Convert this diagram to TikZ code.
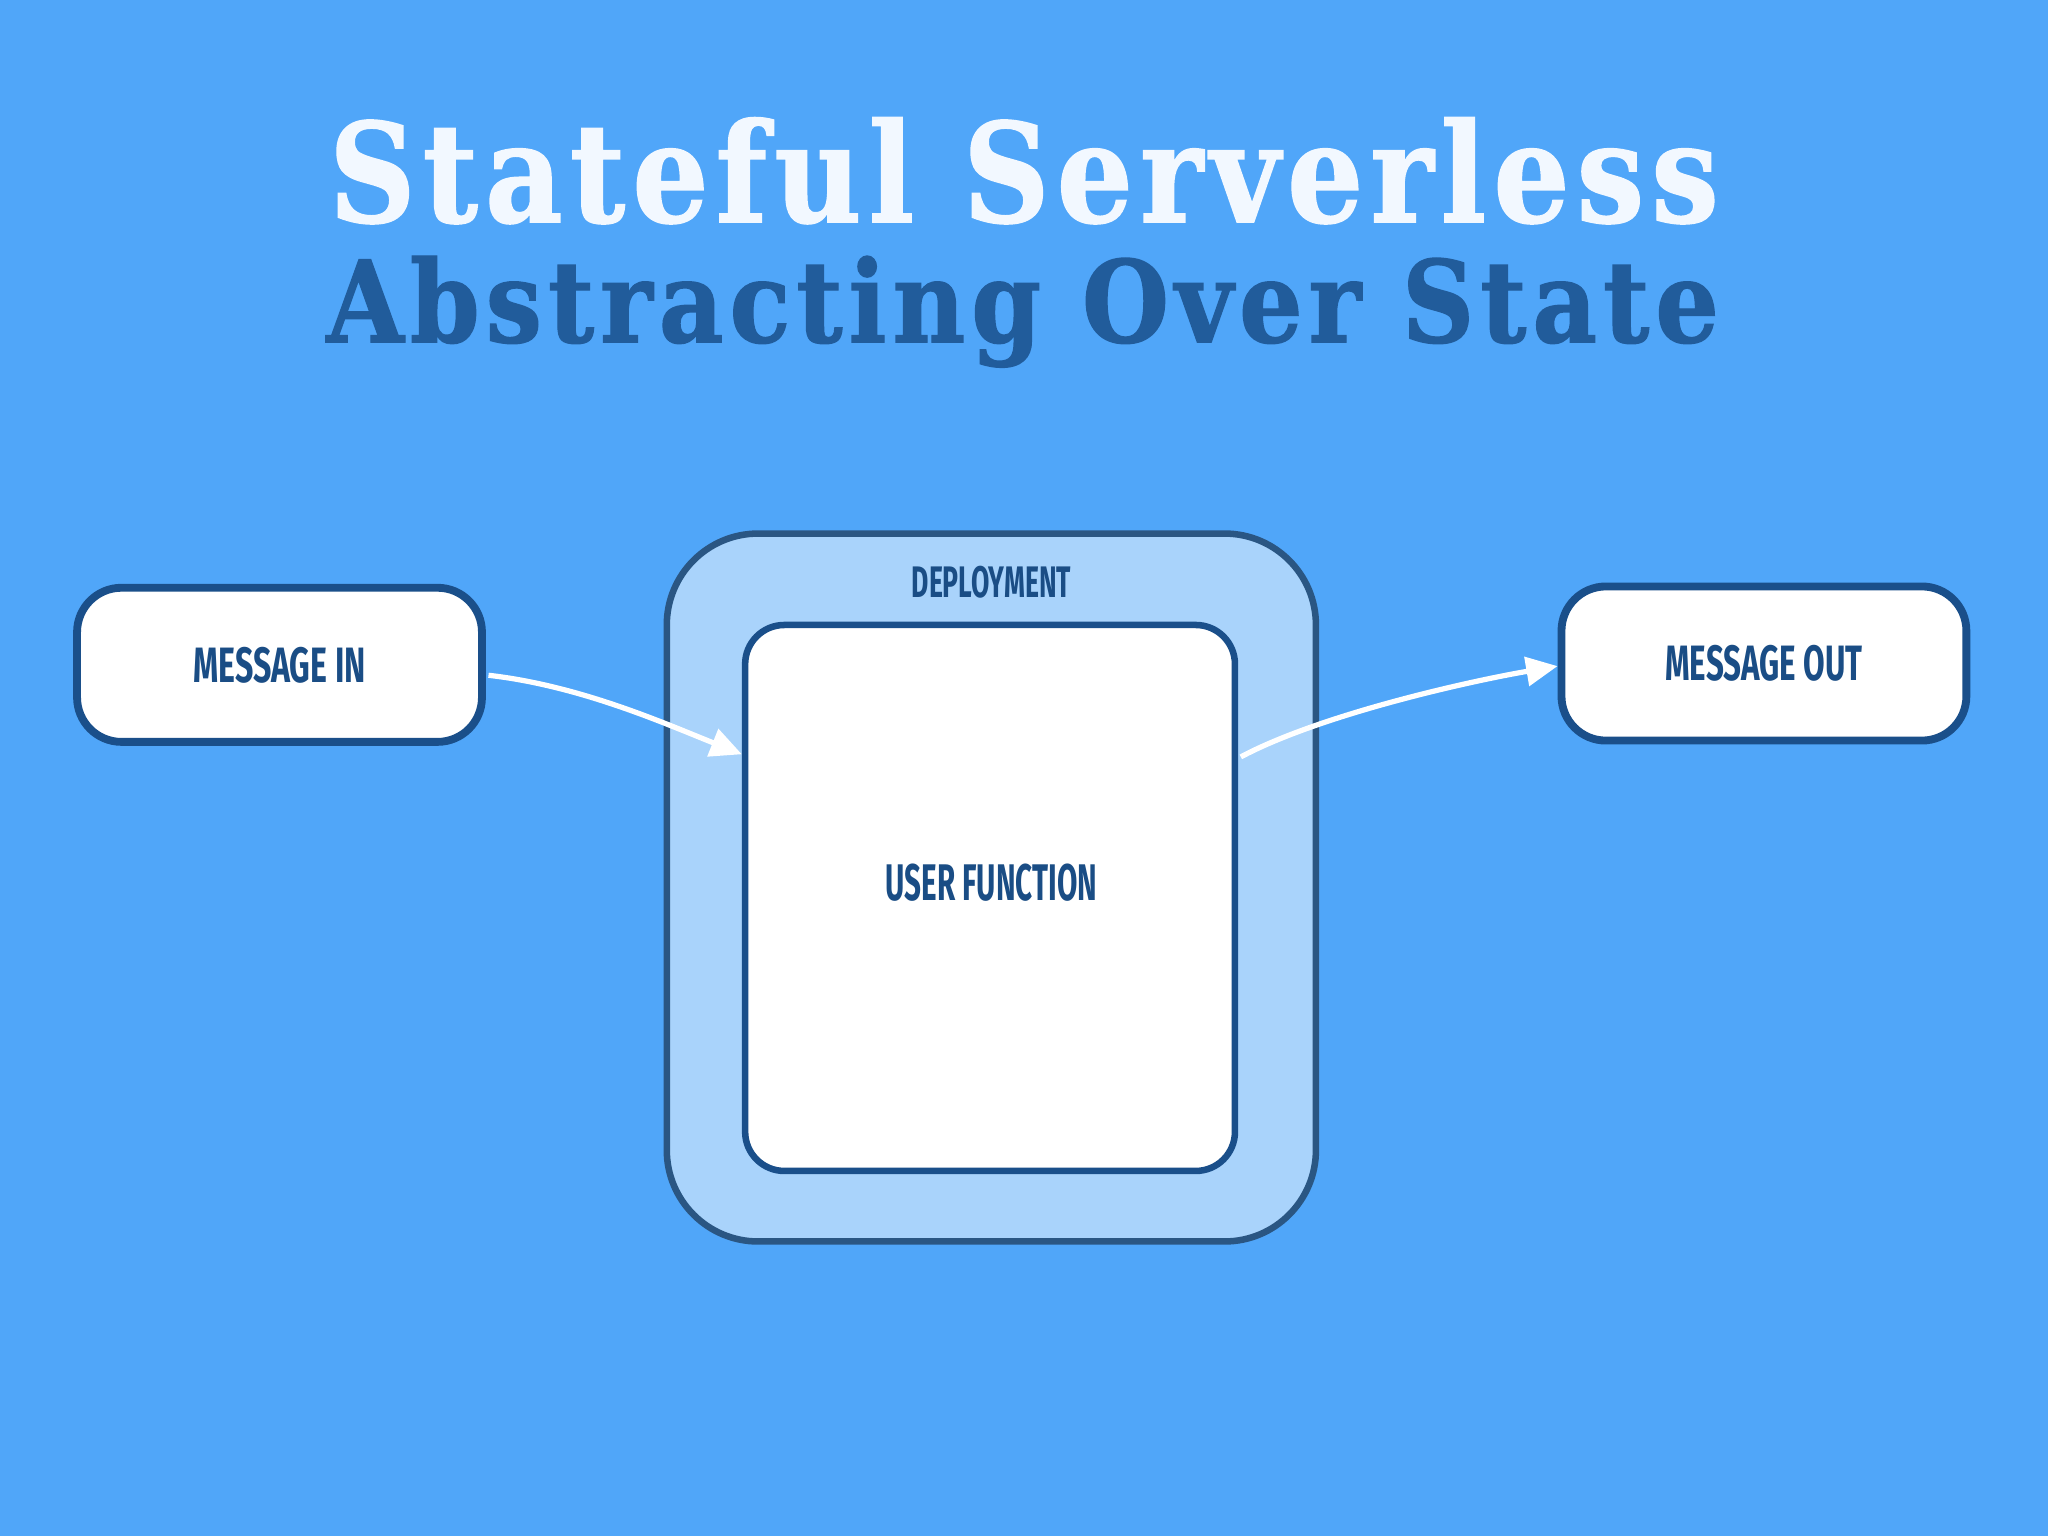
\documentclass[tikz,border=0pt]{standalone}
\usepackage{fontspec}
\usepackage{graphicx}
\usetikzlibrary{arrows.meta,calc}
\newfontfamily\titlefont{DejaVu Serif Bold}[LetterSpace=6,FakeBold=1.2]
\newfontfamily\lblfont{Fira Sans}
\definecolor{bg}{HTML}{50A6F9}
\definecolor{deplfill}{HTML}{A9D3FB}
\definecolor{deplline}{HTML}{2A5683}
\definecolor{boxline}{HTML}{1A4F8A}
\definecolor{lbl}{HTML}{1A4D85}
\definecolor{titlewhite}{HTML}{F2F8FF}
\definecolor{titleblue}{HTML}{215C9B}
\newcommand{\lbltext}[3]{\resizebox{#1}{#2}{\lblfont\bfseries #3}}
\begin{document}
\begin{tikzpicture}[x=0.5pt,y=-0.5pt,
  msgbox/.style={draw=boxline, line width=3pt, fill=white, rounded corners=17pt,
    minimum width=155pt, minimum height=59pt, inner sep=0pt, text=lbl},
  deplbox/.style={draw=deplline, line width=2.5pt, fill=deplfill, rounded corners=35pt,
    minimum width=248.5pt, minimum height=271pt, inner sep=0pt},
  funcbox/.style={draw=boxline, line width=2.5pt, fill=white, rounded corners=15pt,
    minimum width=187.5pt, minimum height=209pt, inner sep=0pt},
  txt/.style={text=lbl, inner sep=0pt},
  flow/.style={draw=white, line width=2pt, -{Triangle[length=12pt,width=11pt]}}]
\path[use as bounding box, fill=bg] (0,0) rectangle (1568,1176);

% title
\node[anchor=base, inner sep=0pt, text=titlewhite] (t1) at (784,170)
  {\resizebox{532pt}{40pt}{\titlefont Stateful Serverless}};
\node[anchor=base, inner sep=0pt, text=titleblue] (t2) at (783,262)
  {\resizebox{533pt}{33pt}{\titlefont Abstracting Over State}};

% boxes
\node[msgbox] (min) at (214,509) {\lbltext{66pt}{13.5pt}{MESSAGE IN}};
\node[msgbox] (mout) at (1350.5,508) {\lbltext{75.5pt}{13.5pt}{MESSAGE OUT}};
\node[deplbox] (dep) at (759,679.5) {};
\node[funcbox] (uf) at (758,687.5) {};
\node[txt] (deplbl) at (759,446) {\lbltext{61pt}{12pt}{DEPLOYMENT}};
\node[txt] (uflbl) at (759,676) {\lbltext{81pt}{14pt}{USER FUNCTION}};

% connectors
\draw[flow] ([xshift=1pt,yshift=-4pt]min.east) .. controls +(70,8) and +(-60,-24) .. ([yshift=55pt]uf.west);
\draw[flow] ([xshift=1pt,yshift=54pt]uf.east) .. controls +(60,-32) and +(-70,12) .. ([yshift=-1pt]mout.west);
\end{tikzpicture}
\end{document}
